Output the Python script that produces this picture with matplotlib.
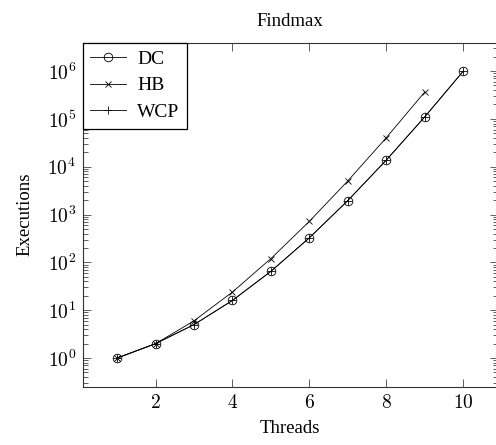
import matplotlib
matplotlib.use("Agg")
import matplotlib.pyplot as plt
from matplotlib.ticker import FixedLocator, LogLocator, NullFormatter, NullLocator

plt.rcParams['font.family'] = ['Liberation Serif', 'DejaVu Serif']
plt.rcParams['mathtext.fontset'] = 'cm'

threads = [1, 2, 3, 4, 5, 6, 7, 8, 9, 10]
dc = [1, 2, 5, 16, 65, 326, 1957, 13700, 109601, 986410]
hb_threads = [1, 2, 3, 4, 5, 6, 7, 8, 9]
hb = [1, 2, 6, 24, 120, 720, 5040, 40320, 362880]
wcp = [1, 2, 5, 16, 65, 326, 1957, 13700, 109601, 986410]

title = "Findmax"
xlabel = "Threads"
ylabel = "Executions"
xticks = [2, 4, 6, 8, 10]
yticks_exp = [0, 1, 2, 3, 4, 5, 6]

fig = plt.figure(figsize=(4.96, 4.45), dpi=100)
ax = fig.add_axes([82.5 / 496, 58.3 / 445, (497.7 - 82.5) / 496, (402.3 - 58.3) / 445])

lw = 0.6
ax.plot(threads, dc, color='black', lw=lw, marker='o', ms=6.2, mfc='none', mew=lw, label='DC')
ax.plot(hb_threads, hb, color='black', lw=lw, marker='x', ms=4.8, mew=lw, label='HB')
ax.plot(threads, wcp, color='black', lw=lw, marker='+', ms=6.2, mew=lw, label='WCP')

ax.set_yscale('log')
ax.set_xlim(0.1, 10.9)
ax.set_ylim(10 ** -0.599, 10 ** 6.593)

ax.xaxis.set_major_locator(FixedLocator(xticks))
ax.set_xticklabels([f'${t}$' for t in xticks])
ax.xaxis.set_minor_locator(NullLocator())
ax.yaxis.set_major_locator(FixedLocator([10.0 ** e for e in yticks_exp]))
ax.set_yticklabels([f'$10^{{{e}}}$' for e in yticks_exp])
ax.yaxis.set_minor_locator(LogLocator(base=10, subs=range(2, 10), numticks=20))
ax.yaxis.set_minor_formatter(NullFormatter())

ax.tick_params(axis='both', which='both', direction='in', top=True, right=True,
               color='#444444', width=0.6, labelsize=14)
ax.tick_params(axis='both', which='major', length=5.7)
ax.tick_params(axis='both', which='minor', length=3.6)
ax.tick_params(axis='x', which='major', pad=5)
ax.tick_params(axis='y', which='major', pad=4.5)

for s in ax.spines.values():
    s.set_color('#333333')
    s.set_linewidth(0.8)

ax.set_title(title, fontsize=13.5, pad=12)
ax.set_xlabel(xlabel, fontsize=13.5, labelpad=6)
ax.set_ylabel(ylabel, fontsize=13.5, labelpad=10)

leg = ax.legend(loc='upper left', bbox_to_anchor=(0, 1), borderaxespad=0,
                fancybox=False, framealpha=1, edgecolor='black', fontsize=14,
                handlelength=1.85, handletextpad=0.55, labelspacing=0.45,
                borderpad=0.4)
leg.get_frame().set_linewidth(0.9)

fig.savefig('out.png', dpi=100)
